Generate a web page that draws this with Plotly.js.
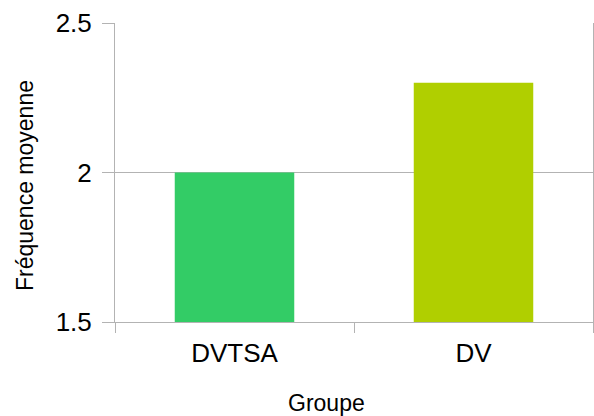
<!DOCTYPE html>
<html>
<head>
<meta charset="utf-8">
<script src="https://cdn.plot.ly/plotly-3.0.1.min.js"></script>
<style>html,body{margin:0;padding:0;background:#fff;}#chart{width:594px;height:416px;}</style>
</head>
<body>
<div id="chart"></div>
<script>
var categories = ["DVTSA", "DV"];
var values = [2.0, 2.3];
var barColors = ["#33cc66", "#b0cf00"];
var yTickVals = [1.5, 2, 2.5];
var yTickText = ["1.5", "2", "2.5"];
var xTitle = "Groupe";
var yTitle = "Fréquence moyenne";

var gray = "#b3b3b3";
var baseVal = 1.5;
var trace = {
  type: "bar",
  x: categories,
  y: values.map(function(v){ return v - baseVal; }),
  base: baseVal,
  marker: {color: barColors, line: {width: 0}},
  hoverinfo: "x+y"
};

var layout = {
  width: 594, height: 416,
  margin: {l: 115, r: 1, t: 23, b: 94},
  paper_bgcolor: "#fff", plot_bgcolor: "#fff",
  font: {family: "'Liberation Sans', Arial, sans-serif", color: "#000"},
  showlegend: false,
  bargap: 0.5,
  xaxis: {
    type: "category",
    tickson: "boundaries",
    ticks: "outside", ticklen: 10, tickcolor: gray, tickwidth: 1,
    showline: true, linecolor: gray, linewidth: 1,
    showgrid: false,
    tickfont: {size: 26, color: "#000"},
    ticklabelstandoff: 8,
    fixedrange: true
  },
  yaxis: {
    range: [1.5, 2.5],
    tickvals: yTickVals, ticktext: yTickText,
    ticks: "outside", ticklen: 12, tickcolor: gray, tickwidth: 1,
    showline: true, linecolor: gray, linewidth: 1, mirror: true,
    showgrid: true, gridcolor: gray, gridwidth: 1,
    zeroline: false,
    tickfont: {size: 26, color: "#000"},
    ticklabelstandoff: 5,
    fixedrange: true
  },
  annotations: [
    {text: xTitle, xref: "paper", yref: "paper", x: (326.5 - 115) / 478, y: -(403 - 322) / 299,
     showarrow: false, xanchor: "center", yanchor: "middle", font: {size: 23, color: "#000"}},
    {text: yTitle, xref: "paper", yref: "paper", x: -(115 - 25) / 478, y: (322 - 186) / 299,
     showarrow: false, xanchor: "center", yanchor: "middle", textangle: -90, font: {size: 23, color: "#000"}}
  ]
};
Plotly.newPlot("chart", [trace], layout, {staticPlot: true, displayModeBar: false});
</script>
</body>
</html>
